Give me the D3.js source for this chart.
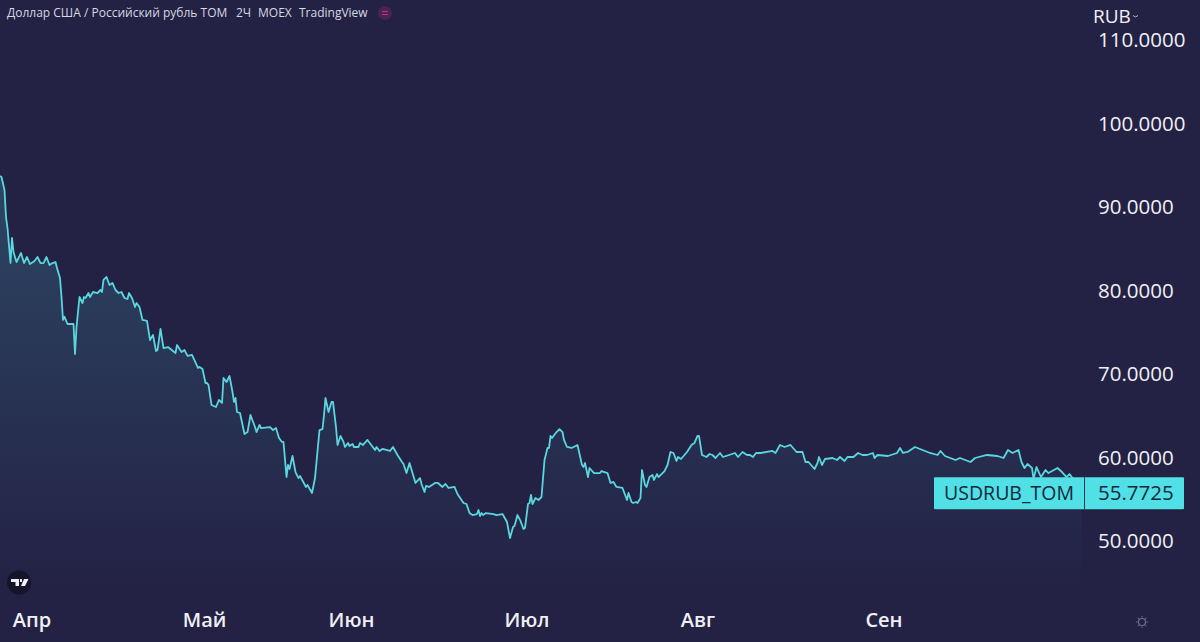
<!DOCTYPE html>
<html>
<head>
<meta charset="utf-8">
<script src="https://cdnjs.cloudflare.com/ajax/libs/d3/7.8.5/d3.min.js"></script>
<style>
  html, body { margin: 0; padding: 0; background: #232144; overflow: hidden; }
  text { font-family: "Open Sans", "Noto Sans", sans-serif; }
</style>
</head>
<body>
<div id="chart"></div>
<script>
// 2H bars counted from the left edge of the chart
const bars = [0,1,3,4,5,7,8,9,11,14,16,18,20,23,25,27,29,31,33,35,37,38,40,41,42,43,45,49,50,51,53,55,56,57,59,60,62,65,67,68,69,71,73,75,77,79,81,83,85,86,88,90,91,93,95,98,100,102,104,105,107,109,112,117,118,121,123,125,128,132,133,135,
  137,138,139,141,144,146,148,149,151,153,155,156,157,158,160,163,165,167,170,171,173,174,180,182,184,186,188,189,191,192,193,195,197,199,200,204,205,208,210,213,215,216,217,219,221,222,224,225,227,229,230,232,233,235,236,239,240,242,245,248,250,251,253,255,260,262,265,268,269,271,273,277,280,281,283,284,286,290,292,295,297,299,303,305,309,311,313,315,318,319,320,
  321,322,324,329,331,335,338,340,342,343,345,347,349,350,352,353,354,355,357,359,361,363,365,366,367,368,371,373,375,376,378,381,385,388,389,390,392,393,396,400,401,405,407,409,411,415,418,419,421,422,424,425,427,428,430,431,433,435,436,438,439,443,445,447,449,451,452,454,458,461,463,465,466,468,471,473,475,477,480,482,490,492,495,498,500,502,504,507,
  515,517,520,523,527,531,535,537,539,543,545,546,548,550,555,558,560,563,565,569,572,575,578,582,583,585,592,598,600,602,605,610,615,620,625,627,630,637,640,647,650,658,665,669,672,675,679,681,683,685,688,689,691,694,697,699,705,708,711,713,715,721];

const prices = [93.71,93.59,92.04,88.80,87.48,83.29,86.29,84.61,83.41,84.49,83.29,84.01,83.17,83.53,84.01,83.29,83.29,84.01,83.05,83.29,83.41,82.69,81.50,79.22,76.47,76.85,75.99,75.99,72.39,75.63,79.22,78.50,79.22,79.10,79.70,79.22,79.82,79.70,80.06,79.82,81.26,81.62,80.66,80.90,80.06,79.70,79.82,79.10,78.98,79.70,79.10,78.02,78.50,78.02,76.47,76.35,74.07,74.67,72.75,72.87,75.39,73.11,73.23,72.51,73.47,72.63,72.87,72.16,72.28,70.72,70.84,70.60,
  68.92,68.92,68.68,66.29,66.05,66.89,66.53,69.52,69.04,69.76,67.84,66.65,67.13,65.45,65.33,62.81,63.05,65.09,63.65,63.05,63.89,63.53,63.65,63.29,63.53,62.34,61.86,61.86,57.66,59.10,58.62,60.18,58.26,57.54,57.78,56.47,56.71,55.75,57.54,63.29,63.41,65.09,67.13,65.45,66.65,66.65,63.65,61.50,62.58,61.86,61.26,61.74,61.38,61.62,61.26,61.26,61.74,61.50,62.10,61.38,60.90,61.26,60.78,61.02,60.78,61.26,60.30,59.46,59.22,58.14,59.34,56.95,57.54,56.83,55.87,56.59,56.47,56.95,56.95,56.47,56.83,56.35,56.47,55.63,54.55,54.43,53.35,53.11,53.23,53.71,52.99,
  53.35,53.11,53.35,53.23,53.11,53.23,52.28,50.36,51.68,51.80,53.11,52.40,51.44,51.56,54.43,54.55,55.51,54.43,55.15,54.91,55.27,59.70,61.14,61.14,62.58,62.34,63.05,63.41,63.05,62.10,61.26,61.14,61.50,59.10,58.86,59.34,57.66,58.74,58.14,58.14,58.38,58.14,56.95,57.07,56.47,56.35,54.91,55.75,54.67,54.55,54.67,54.55,55.15,58.50,56.71,56.47,57.66,57.90,57.31,58.02,57.66,58.38,59.10,60.66,60.54,59.58,60.06,59.82,60.66,61.50,61.74,62.58,62.58,60.30,60.06,60.42,60.30,59.94,60.54,60.06,60.54,60.06,60.66,60.30,60.30,60.06,60.54,60.54,
  60.78,60.54,61.50,61.26,61.50,60.66,60.66,59.46,59.46,58.62,59.34,60.06,59.10,59.82,59.94,59.70,60.06,59.58,60.06,60.06,60.54,60.30,60.30,60.54,59.94,60.30,60.18,60.54,61.14,60.54,60.66,61.26,60.90,60.54,60.30,60.78,60.18,59.70,59.94,59.46,59.94,60.30,60.18,59.94,60.90,60.54,60.90,59.46,58.74,59.22,58.74,57.43,58.86,57.66,58.50,58.14,58.74,58.26,57.66,58.02,57.55,55.7725];

const priceTicks = [50, 60, 70, 80, 90, 100, 110];
const monthBars = [21, 136, 234, 351, 465, 589];
const monthLabels = ["Апр", "Май", "Июн", "Июл", "Авг", "Сен"];
const lastPrice = 55.7725;
const symbolName = "USDRUB_TOM";
const titleParts = ["Доллар США / Российский рубль TOM", "2Ч", "MOEX", "TradingView"];

const width = 1200;
const height = 642;

const svg = d3.select("#chart").append("svg")
    .attr("width", width)
    .attr("height", height)
    .style("display", "block");

svg.append("rect")
    .attr("width", width)
    .attr("height", height)
    .attr("fill", "#232144");

// One bar is a pixel and a half, as in the original pane
const x = d3.scaleLinear().domain([0, 721]).range([0, 1081.5]);
const y = d3.scaleLinear().domain([50, 110]).range([541, 40]);

const points = bars.map((b, i) => ({ bar: b, price: prices[i] }));

// Area fades from the highest price down to the bottom of the pane
const defs = svg.append("defs");
const fade = defs.append("linearGradient")
    .attr("id", "area-fade")
    .attr("gradientUnits", "userSpaceOnUse")
    .attr("x1", 0).attr("x2", 0)
    .attr("y1", y(d3.max(prices)))
    .attr("y2", 596);
fade.append("stop").attr("offset", "0%").attr("stop-color", "#55d8e0").attr("stop-opacity", 0.2);
fade.append("stop").attr("offset", "100%").attr("stop-color", "#55d8e0").attr("stop-opacity", 0);

const area = d3.area()
    .x(d => x(d.bar))
    .y0(596)
    .y1(d => y(d.price));

const line = d3.line()
    .x(d => x(d.bar))
    .y(d => y(d.price));

svg.append("path")
    .datum(points)
    .attr("d", area)
    .attr("fill", "url(#area-fade)");

svg.append("path")
    .datum(points)
    .attr("d", line)
    .attr("fill", "none")
    .attr("stroke", "#5ad6de")
    .attr("stroke-width", 1.8)
    .attr("stroke-linejoin", "round");

// Price axis, labels start at the same x
const yAxis = d3.axisRight(y)
    .tickValues(priceTicks)
    .tickFormat(d3.format(".4f"))
    .tickSize(0);

const yGroup = svg.append("g")
    .attr("transform", "translate(1098,0)")
    .call(yAxis);
yGroup.select(".domain").remove();
yGroup.selectAll("text")
    .attr("x", 0)
    .attr("text-anchor", "start")
    .attr("fill", "#f0f0f4")
    .style("font-size", "20.5px");

// Month axis
const xAxis = d3.axisBottom(x)
    .tickValues(monthBars)
    .tickFormat((d, i) => monthLabels[i])
    .tickSize(0);

const xGroup = svg.append("g")
    .attr("transform", "translate(0,610)")
    .call(xAxis);
xGroup.select(".domain").remove();
xGroup.selectAll("text")
    .attr("fill", "#f0f0f4")
    .style("font-size", "20px")
    .style("font-weight", 600);

// Currency selector
svg.append("text")
    .attr("x", 1093)
    .attr("y", 23)
    .attr("fill", "#f0f0f4")
    .style("font-size", "19px")
    .text("RUB");
svg.append("path")
    .attr("d", "M1133 15.5l2.5 1.5l2.5-1.5")
    .attr("fill", "none")
    .attr("stroke", "#b9b9c8")
    .attr("stroke-width", 1);

// Last price label
const labelY = y(lastPrice);
svg.append("rect")
    .attr("x", 934).attr("y", labelY - 15.5)
    .attr("width", 250).attr("height", 32)
    .attr("rx", 1)
    .attr("fill", "#50e0e6");
svg.append("line")
    .attr("x1", 1084.5).attr("x2", 1084.5)
    .attr("y1", labelY - 15.5).attr("y2", labelY + 16.5)
    .attr("stroke", "#1d3a50")
    .attr("stroke-width", 1);
svg.append("text")
    .attr("x", 1009).attr("y", labelY + 7)
    .attr("text-anchor", "middle")
    .attr("fill", "#10293a")
    .style("font-size", "19.5px")
    .text(symbolName);
svg.append("text")
    .attr("x", 1098).attr("y", labelY + 7.5)
    .attr("text-anchor", "start")
    .attr("fill", "#10293a")
    .style("font-size", "20.5px")
    .text(d3.format(".4f")(lastPrice));

// Title strip
const titleX = [7, 236, 258, 299];
svg.selectAll(".title-part")
    .data(titleParts)
    .join("text")
    .attr("class", "title-part")
    .attr("x", (d, i) => titleX[i])
    .attr("y", 17)
    .attr("fill", "#d8d8e2")
    .style("font-size", "12px")
    .text(d => d);

// Small status badge after the title
svg.append("circle")
    .attr("cx", 385).attr("cy", 13).attr("r", 7)
    .attr("fill", "#4a2350");
svg.append("path")
    .attr("d", "M382 11.5h6M382 14.5h6")
    .attr("stroke", "#c03a70")
    .attr("stroke-width", 1.2);

// TradingView badge
svg.append("circle")
    .attr("cx", 19).attr("cy", 582.5).attr("r", 12)
    .attr("fill", "#14142a");
svg.append("path")
    .attr("d", "M11 579h8v7h-3.5v-4H11zM20 579h2v3h-2zM24 579h4.5l-3.5 7h-4z")
    .attr("fill", "#f0f0f4");

// Settings cog at the corner of the axes
const cog = svg.append("g")
    .attr("transform", "translate(1142,622)")
    .attr("stroke", "#6f6e8c")
    .attr("fill", "none");
cog.append("circle").attr("r", 3.5).attr("stroke-width", 1.2);
cog.selectAll("line")
    .data(d3.range(8))
    .join("line")
    .attr("y1", -4.5)
    .attr("y2", -6)
    .attr("stroke-width", 1)
    .attr("transform", d => `rotate(${d * 45})`);
</script>
</body>
</html>
